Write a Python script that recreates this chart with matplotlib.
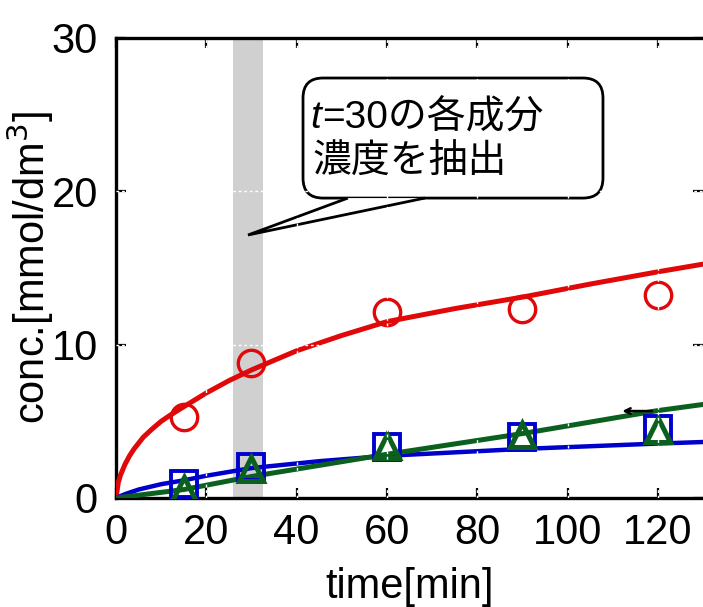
import matplotlib
matplotlib.use("Agg")
import matplotlib.pyplot as plt
from matplotlib.patches import FancyBboxPatch, Polygon

plt.rcParams["font.family"] = ["Liberation Sans", "Noto Sans CJK JP"]

# measured points
t_obs   = [15, 30, 60, 90, 120]
red_obs = [5.3, 8.8, 12.15, 12.3, 13.25]
blu_obs = [0.9, 2.0, 3.3, 4.0, 4.5]
grn_obs = [0.6, 1.9, 3.4, 4.1, 4.45]

# fitted curves
t_red   = [0, 0.5, 1, 2, 3, 4, 6, 8, 10, 12, 15, 20, 25, 30, 40, 50, 60, 75, 90, 105, 120, 130]
red_fit = [0, 1.0, 1.5, 2.2, 2.75, 3.2, 3.95, 4.5, 5.0, 5.4, 5.95, 6.85, 7.65, 8.35,
           9.6, 10.6, 11.5, 12.35, 13.1, 13.95, 14.75, 15.25]
t_blu   = [0, 2, 5, 10, 15, 20, 30, 45, 60, 90, 120, 130]
blu_fit = [0, 0.25, 0.55, 0.9, 1.15, 1.45, 1.95, 2.4, 2.75, 3.2, 3.55, 3.65]
t_grn   = [0, 15, 30, 60, 90, 120, 130]
grn_fit = [0, 0.55, 1.4, 2.85, 4.2, 5.7, 6.1]

RED, BLUE, GREEN = "#e00808", "#0000cc", "#0b6020"

fig = plt.figure(figsize=(7.03, 6.07), dpi=100)
ax = fig.add_axes([0.165, 0.1796, 0.835, 0.7578])

ax.axvspan(26, 32.6, color="#d0d0d0", lw=0, zorder=1)

ax.plot(t_red, red_fit, color=RED, lw=3.6, zorder=3)
ax.plot(t_blu, blu_fit, color=BLUE, lw=3.2, zorder=3)
ax.plot(t_grn, grn_fit, color=GREEN, lw=3.6, zorder=3)

ax.plot(t_obs, red_obs, "o", ms=19, mfc="none", mec=RED, mew=2.4, zorder=4)
ax.plot(t_obs, blu_obs, "s", ms=19, mfc="none", mec=BLUE, mew=2.8, zorder=4)
ax.plot(t_obs, grn_obs, "^", ms=17, mfc="none", mec=GREEN, mew=3.6, zorder=5)

# small arrow left over near the green line
ax.annotate("", xy=(111.5, 5.67), xytext=(119.3, 5.67),
            arrowprops=dict(arrowstyle="->", color="black", lw=1.8), zorder=6)

# callout box
aw, ah = 587.0, 460.0
box = FancyBboxPatch((0.3186, 0.652), 0.511, 0.261,
                     boxstyle="round,pad=0,rounding_size=0.034",
                     mutation_aspect=aw / ah, transform=ax.transAxes,
                     fc="white", ec="black", lw=2, zorder=7)
ax.add_patch(box)
wedge = Polygon([(0.395, 0.652), (0.2249, 0.5717), (0.526, 0.652)], closed=False,
                transform=ax.transAxes, fc="white", ec="black", lw=2, zorder=7.5)
ax.add_patch(wedge)
ax.text(0.3305, 0.804, "t", transform=ax.transAxes, fontsize=28, style="italic",
        va="baseline", ha="left", zorder=9)
ax.text(0.3505, 0.804, "=30の各成分", transform=ax.transAxes, fontsize=28,
        va="baseline", ha="left", zorder=9)
ax.text(0.335, 0.706, "濃度を抽出", transform=ax.transAxes, fontsize=28,
        va="baseline", ha="left", zorder=9)

# white dashed grid
for yv in [10, 20]:
    ax.axhline(yv, color="white", lw=1, ls=(0, (2, 2)), zorder=8)
for xv in [20, 40, 60, 80, 100, 120]:
    ax.axvline(xv, color="white", lw=1, ls=(0, (2, 2)), zorder=8)

ax.set_xlim(0, 130)
ax.set_ylim(0, 30)
ax.set_xticks([0, 20, 40, 60, 80, 100, 120])
ax.set_yticks([0, 10, 20, 30])
ax.tick_params(direction="in", length=7, width=1.6, labelsize=30,
               top=True, right=True)
ax.tick_params(axis="x", pad=11)
ax.tick_params(axis="y", pad=13)
for s in ax.spines.values():
    s.set_linewidth(2.4)
ax.spines["right"].set_visible(False)

ax.set_xlabel("time[min]", fontsize=30, labelpad=10)
ax.set_ylabel("conc.[mmol/dm$^3$]", fontsize=30, labelpad=-3)

fig.savefig("out.png", dpi=100)
